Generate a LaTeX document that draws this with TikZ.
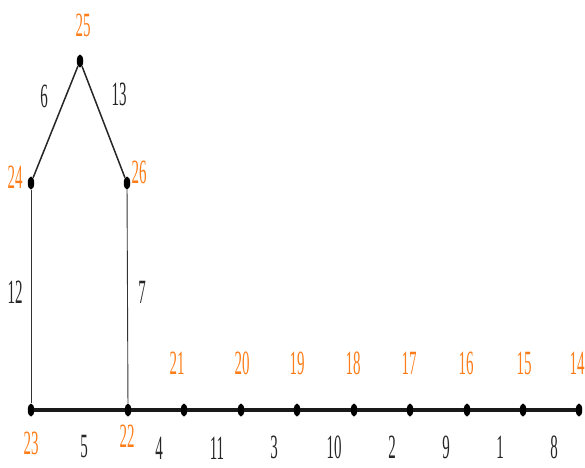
\documentclass[tikz,border=0pt]{standalone}
\usepackage{fontspec}
\setmainfont{Liberation Serif}
\usepackage{graphicx}
\usetikzlibrary{shapes.geometric}
\definecolor{lblorange}{RGB}{255,125,25}
\newcommand{\lbl}[1]{\scalebox{0.44}[1]{\fontsize{34}{34}\selectfont #1}}
\tikzset{
  vtx/.style={ellipse, fill=black, inner sep=0pt, minimum width=6.5pt, minimum height=13pt},
  vlabel/.style={text=lblorange, inner sep=0pt},
  elabel/.style={text=black!85, inner sep=0pt},
  thickedge/.style={line width=3.2pt, black!90},
  thinedge/.style={line width=0.9pt, black!80},
  diagedge/.style={line width=1.5pt, black!85}
}
\begin{document}
\begin{tikzpicture}[x=1pt,y=-1pt]
\useasboundingbox (0,0) rectangle (585,467);
% vertices
\node[vtx] (v25) at (80,61) {};
\node[vtx] (v24) at (31,183) {};
\node[vtx] (v26) at (127,183) {};
\node[vtx] (v23) at (31,410) {};
\node[vtx] (v22) at (128,410) {};
\node[vtx] (v21) at (184,410) {};
\node[vtx] (v20) at (241,410) {};
\node[vtx] (v19) at (297,410) {};
\node[vtx] (v18) at (354,410) {};
\node[vtx] (v17) at (410,410) {};
\node[vtx] (v16) at (467,410) {};
\node[vtx] (v15) at (523,410) {};
\node[vtx] (v14) at (579,410) {};
% edges
\draw[diagedge] (v24) -- (v25);
\draw[diagedge] (v25) -- (v26);
\draw[thinedge] (v24) -- (v23);
\draw[thinedge] (v26) -- (v22);
\draw[thickedge] (v23) -- (v22) -- (v21) -- (v20) -- (v19) -- (v18) -- (v17) -- (v16) -- (v15) -- (v14);
% vertex labels
\node[vlabel] (l25) at (83,25) {\lbl{25}};
\node[vlabel] (l24) at (15,177) {\lbl{24}};
\node[vlabel] (l26) at (139,172) {\lbl{26}};
\node[vlabel] (l23) at (31,443) {\lbl{23}};
\node[vlabel] (l22) at (127,436) {\lbl{22}};
\node[vlabel] (l21) at (177,363) {\lbl{21}};
\node[vlabel] (l20) at (242,363) {\lbl{20}};
\node[vlabel] (l19) at (297,363) {\lbl{19}};
\node[vlabel] (l18) at (353,363) {\lbl{18}};
\node[vlabel] (l17) at (409,363) {\lbl{17}};
\node[vlabel] (l16) at (466,363) {\lbl{16}};
\node[vlabel] (l15) at (524,363) {\lbl{15}};
\node[vlabel] (l14) at (577,363) {\lbl{14}};
% edge labels
\node[elabel] (e6) at (44,96) {\lbl{6}};
\node[elabel] (e13) at (119,94) {\lbl{13}};
\node[elabel] (e12) at (15,292) {\lbl{12}};
\node[elabel] (e7) at (142,292) {\lbl{7}};
\node[elabel] (e5) at (84,447) {\lbl{5}};
\node[elabel] (e4) at (159,448) {\lbl{4}};
\node[elabel] (e11) at (217,448) {\lbl{11}};
\node[elabel] (e3) at (274,447) {\lbl{3}};
\node[elabel] (e10) at (334,447) {\lbl{10}};
\node[elabel] (e2) at (392,447) {\lbl{2}};
\node[elabel] (e9) at (446,447) {\lbl{9}};
\node[elabel] (e1) at (500,447) {\lbl{1}};
\node[elabel] (e8) at (554,447) {\lbl{8}};
\end{tikzpicture}
\end{document}
